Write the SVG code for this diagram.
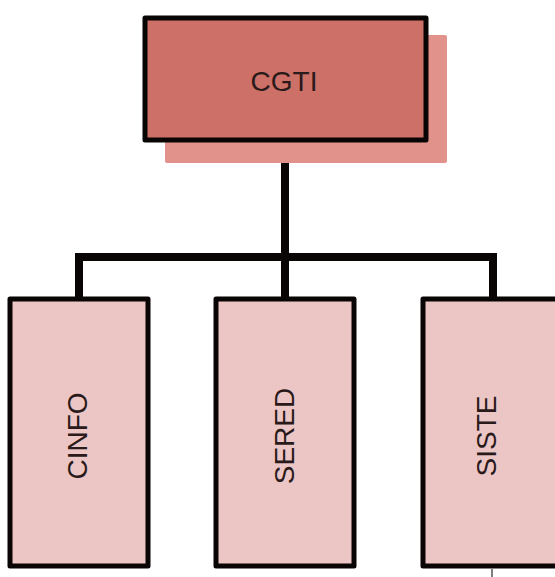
<svg xmlns="http://www.w3.org/2000/svg" width="555" height="577" viewBox="0 0 555 577">
  <style>
    .box { stroke: #0a0505; stroke-width: 5; stroke-linejoin: round; }
    .child { fill: #ecc6c5; }
    .label { font-family: "Liberation Sans", Arial, sans-serif; font-size: 28px; text-anchor: middle; dominant-baseline: central; fill: #2a1a1a; }
    .wire { fill: none; stroke: #0a0505; stroke-width: 8; }
  </style>
  <rect width="555" height="577" fill="#ffffff"/>

  <!-- connectors -->
  <g id="connectors">
    <path class="wire" d="M285 140 V257"/>
    <path class="wire" d="M79 298 V257 H493 V298"/>
    <path class="wire" d="M285 257 V298"/>
    <path d="M492 569 V577" stroke="#555" stroke-width="1.5"/>
  </g>

  <!-- root node with drop shadow -->
  <g id="cgti">
    <rect x="165" y="35" width="282" height="128" rx="2" fill="#e0928b"/>
    <rect class="box" x="145" y="18" width="281" height="122" fill="#cd7068"/>
    <text class="label" x="284" y="81" fill="#3a0f0f">CGTI</text>
  </g>

  <g id="cinfo">
    <rect class="box child" x="10" y="299" width="138" height="267"/>
    <text class="label" transform="translate(77 436) rotate(-90)">CINFO</text>
  </g>

  <g id="sered">
    <rect class="box child" x="216" y="299" width="138" height="267"/>
    <text class="label" transform="translate(284 436) rotate(-90)">SERED</text>
  </g>

  <g id="siste">
    <rect class="box child" x="423" y="299" width="150" height="267"/>
    <text class="label" transform="translate(486 436) rotate(-90)">SISTE</text>
  </g>
</svg>
